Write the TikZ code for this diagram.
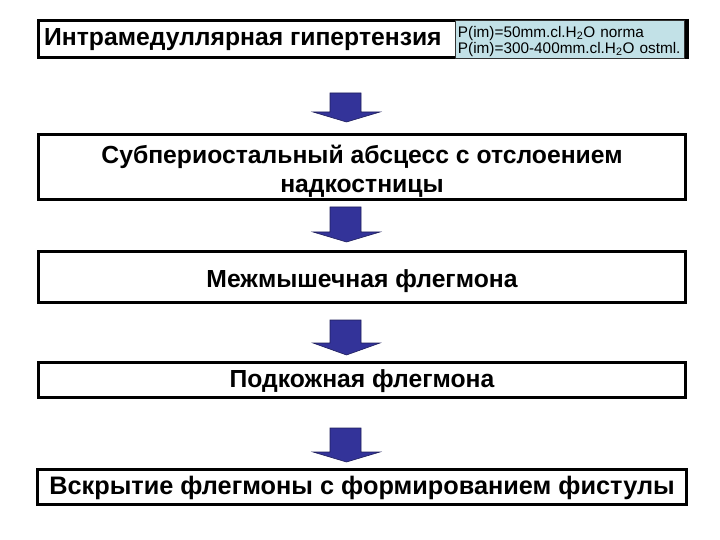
\documentclass[tikz,border=0pt]{standalone}
\usepackage{fontspec}
\setmainfont{Liberation Sans}
\usetikzlibrary{positioning}
\definecolor{arrowblue}{HTML}{333399}
\definecolor{notefill}{HTML}{C2E1E7}
\tikzstyle{block} = [draw, line width=3bp, rectangle, align=center, minimum width=647bp, inner sep=0pt, font=\bfseries\fontsize{24.8}{28.5}\selectfont]
\tikzstyle{note} = [draw=black!80, fill=notefill, line width=0.8bp, rectangle, align=left, anchor=north west, text width=224bp, minimum height=38bp, inner xsep=2.5bp, inner ysep=1bp, font=\fontsize{15.4}{16}\selectfont]
\tikzstyle{down} = [draw=arrowblue!60!black, fill=arrowblue, line width=0.6bp, line join=miter]

\begin{document}
\begin{tikzpicture}[x=1bp, y=-1bp]
\useasboundingbox (0,0) rectangle (720,540);
\node (htn) [block, minimum height=37bp] at (362,39) {};
\node (htntext) [anchor=west, inner sep=0pt, font=\bfseries\fontsize{24.8}{28}\selectfont] at (44,40) {Интрамедуллярная гипертензия};
\node (press) [note] at (455,20) {\rule{0pt}{15bp}P(im)=50mm.cl.H\textsubscript{2}O norma\\P(im)=300-400mm.cl.H\textsubscript{2}O ostml.};
\draw [line width=3bp] (htn.north east) -- (htn.south east);
\node (abscess) [block, minimum height=65bp] at (362,167) {\rule{0pt}{27bp}Субпериостальный абсцесс с отслоением\\надкостницы};
\node (inter) [block, minimum height=51bp] at (362,277) {\rule{0pt}{27bp}Межмышечная флегмона};
\node (subcut) [block, minimum height=35bp] at (362,380) {\rule{0pt}{21bp}Подкожная флегмона};
\node (fistula) [block, minimum height=35bp, minimum width=649bp, font=\bfseries\fontsize{25.4}{28}\selectfont] at (362,487) {\rule{0pt}{21bp}Вскрытие флегмоны с формированием фистулы};
% block arrows between the stages
\coordinate (a1) at (330,93);
\draw [down] (a1) -- ++(31,0) -- ++(0,19) -- ++(19,0) -- ++(-33.5,10) -- ++(-33.5,-10) -- ++(17,0) -- cycle;
\coordinate (a2) at (330,207);
\draw [down] (a2) -- ++(31,0) -- ++(0,25) -- ++(19,0) -- ++(-33.5,10) -- ++(-33.5,-10) -- ++(17,0) -- cycle;
\coordinate (a3) at (330,320);
\draw [down] (a3) -- ++(31,0) -- ++(0,23) -- ++(19,0) -- ++(-33.5,12) -- ++(-33.5,-12) -- ++(17,0) -- cycle;
\coordinate (a4) at (330,428);
\draw [down] (a4) -- ++(31,0) -- ++(0,24) -- ++(19,0) -- ++(-33.5,10) -- ++(-33.5,-10) -- ++(17,0) -- cycle;
\end{tikzpicture}
\end{document}
